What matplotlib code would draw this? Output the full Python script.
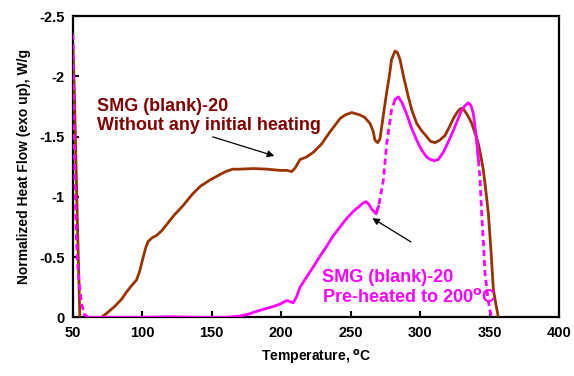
import numpy as np
import matplotlib.pyplot as plt
from matplotlib.ticker import MultipleLocator, FuncFormatter

plt.rcParams['font.family'] = ['Liberation Sans', 'DejaVu Sans']
plt.rcParams['font.weight'] = 'bold'
plt.rcParams['axes.unicode_minus'] = False

# DSC trace, sample without initial heating
temp_raw = np.array([
    50, 51, 52, 53, 54, 55, 57, 62, 67, 70.5,
    75, 80, 85, 88.6, 92, 95.8, 98, 100.6, 102.5, 104.2,
    107, 110.3, 114, 117.5, 123, 129.5, 133, 136.6, 142, 148.7,
    155, 160, 165, 170, 180, 190, 199, 204, 207.5, 210,
    213.5, 218, 223.1, 229.1, 235.1, 242.3, 246, 250.7, 256.7, 260,
    263.9, 266, 267.5, 269.4, 271, 272.3, 274, 275.8, 278, 279.4,
    281.9, 283.5, 285.5, 288, 291.5, 294, 297.5, 301, 304.7, 307.5,
    310.7, 314, 317.9, 321, 323.9, 326.5, 328.7, 330.5, 332.3, 334.5,
    337.1, 339.5, 341.9, 343.5, 345.5, 347, 349.1, 351, 352.7, 354.5,
    356.3, 358])
flow_raw = np.array([
    -2.25, -1.9, -1.4, -0.9, -0.45, 0.0, 0.05, 0.06, 0.04, 0.0,
    -0.04, -0.09, -0.15, -0.21, -0.26, -0.31, -0.38, -0.50, -0.58, -0.63,
    -0.66, -0.68, -0.72, -0.77, -0.85, -0.93, -0.98, -1.03, -1.09, -1.14,
    -1.18, -1.21, -1.23, -1.23, -1.235, -1.23, -1.22, -1.22, -1.21, -1.24,
    -1.31, -1.33, -1.37, -1.44, -1.54, -1.65, -1.68, -1.70, -1.68, -1.66,
    -1.61, -1.55, -1.47, -1.45, -1.48, -1.58, -1.72, -1.86, -2.02, -2.14,
    -2.21, -2.20, -2.14, -2.00, -1.83, -1.72, -1.61, -1.55, -1.50, -1.46,
    -1.45, -1.47, -1.51, -1.58, -1.65, -1.70, -1.73, -1.735, -1.71, -1.67,
    -1.61, -1.53, -1.44, -1.35, -1.22, -1.08, -0.86, -0.55, -0.23, -0.11,
    0.0, 0.05])

# DSC trace, sample pre-heated to 200 C
temp_pre = np.array([
    50, 50.7, 51.4, 52.2, 53.1, 54, 55, 56.5, 58.6, 61,
    65, 80, 100, 120, 140, 160, 170, 176, 182.3, 188,
    194.3, 199.1, 203.9, 206.5, 208.6, 211, 213.5, 218, 223.1, 228,
    232.7, 237, 242.3, 247, 251.9, 256, 259, 261, 263, 265,
    268.2, 270, 272.3, 273.5, 276, 279.4, 282, 284.3, 287, 290.2,
    293.5, 297.5, 301, 304.7, 307.5, 310, 313, 316.7, 320, 323.9,
    327, 329.9, 332.5, 334.7, 336.5, 338.3, 340.7, 342, 343.1, 344.3,
    345.5, 346.7, 348.5, 350, 351.5, 353])
flow_pre = np.array([
    -2.35, -1.8, -1.14, -0.75, -0.50, -0.35, -0.23, -0.10, -0.02, 0.0,
    0.0, 0.0, 0.0, -0.005, 0.0, 0.0, -0.01, -0.025, -0.05, -0.07,
    -0.09, -0.11, -0.14, -0.13, -0.12, -0.17, -0.25, -0.33, -0.42, -0.51,
    -0.59, -0.67, -0.75, -0.82, -0.88, -0.92, -0.95, -0.96, -0.94, -0.90,
    -0.86, -0.92, -1.06, -1.14, -1.45, -1.72, -1.81, -1.83, -1.78, -1.69,
    -1.58, -1.47, -1.39, -1.33, -1.31, -1.30, -1.31, -1.37, -1.45, -1.55,
    -1.64, -1.72, -1.76, -1.78, -1.76, -1.69, -1.47, -1.30, -1.14, -0.86,
    -0.62, -0.37, -0.18, -0.07, 0.0, 0.04])

label_raw = 'SMG (blank)-20\nWithout any initial heating'
label_pre = 'SMG (blank)-20\nPre-heated to 200$^{\\mathbf{o}}$C'

BROWN = '#993300'
DARKRED = '#800000'
MAGENTA = '#FF00FF'

fig = plt.figure(figsize=(5.74, 3.76), dpi=100)
ax = fig.add_axes([0.127, 0.156, 0.847, 0.801])

ax.plot(temp_raw, flow_raw, color=BROWN, lw=2.0, zorder=3)

# steep parts of the pre-heated trace are drawn dashed
steep = (temp_pre <= 61) | ((temp_pre >= 268.2) & (temp_pre <= 284.3)) | (temp_pre >= 340.7)
gentle = ((temp_pre >= 58.6) & (temp_pre <= 270)) | ((temp_pre >= 282) & (temp_pre <= 342))
ax.plot(temp_pre, np.where(gentle, flow_pre, np.nan), color=MAGENTA, lw=2.0, zorder=4)
ax.plot(temp_pre, np.where(steep, flow_pre, np.nan), color=MAGENTA, lw=2.0,
        linestyle=(0, (2.2, 1.4)), zorder=4)

ax.set_xlim(50, 400)
ax.set_ylim(0, -2.5)
ax.xaxis.set_major_locator(MultipleLocator(50))
ax.yaxis.set_major_locator(MultipleLocator(0.5))
ax.yaxis.set_major_formatter(FuncFormatter(lambda v, p: '%g' % v))
ax.tick_params(direction='in', length=4, width=1.5, labelsize=10.5, pad=6)
for lbl in ax.get_xticklabels() + ax.get_yticklabels():
    lbl.set_fontweight('bold')
for s in ax.spines.values():
    s.set_linewidth(1.6)
    s.set_color('black')

ax.set_xlabel('Temperature, $^{\\mathbf{o}}$C', fontsize=10, fontweight='bold', labelpad=6)
ax.set_ylabel('Normalized Heat Flow (exo up), W/g', fontsize=10, fontweight='bold', labelpad=6)

ax.text(67, -1.67, label_raw, color=DARKRED, fontsize=13, fontweight='bold',
        linespacing=1.2, va='center', ha='left')
ax.text(229, -0.25, label_pre, color=MAGENTA, fontsize=13, fontweight='bold',
        linespacing=1.15, va='center', ha='left')

ax.annotate('', xy=(196.9, -1.333), xytext=(148.7, -1.505),
            arrowprops=dict(arrowstyle='-|>', color='black', lw=0.9, mutation_scale=10))
ax.annotate('', xy=(263.9, -0.835), xytext=(295.1, -0.614),
            arrowprops=dict(arrowstyle='-|>', color='black', lw=0.9, mutation_scale=10))

fig.savefig('out.png', dpi=100)
